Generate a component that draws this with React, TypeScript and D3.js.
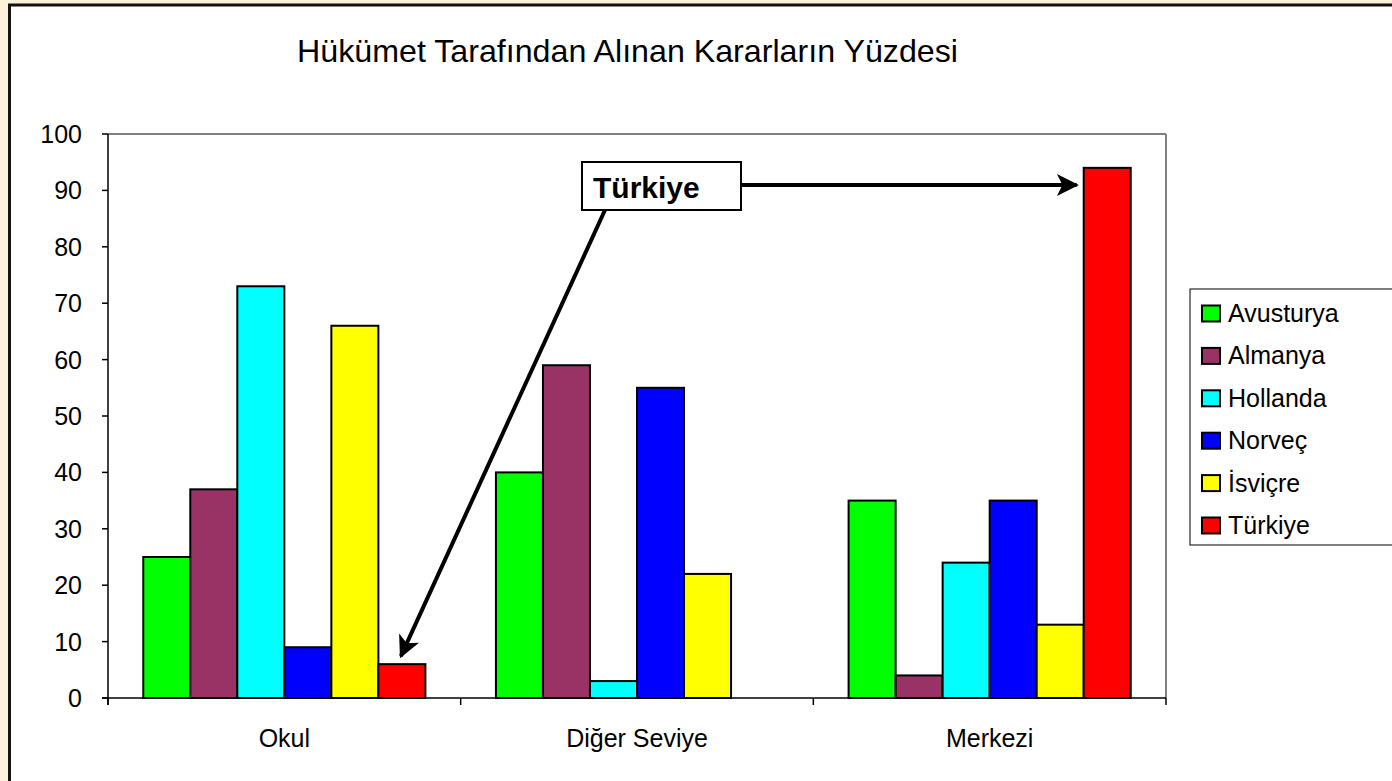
import React from "react";
import * as d3 from "d3";

const categories = ["Okul", "Diğer Seviye", "Merkezi"];
const seriesNames = ["Avusturya", "Almanya", "Hollanda", "Norveç", "İsviçre", "Türkiye"];
const seriesColors = ["#00FF00", "#993366", "#00FFFF", "#0000FF", "#FFFF00", "#FF0000"];
const avusturya = [25, 40, 35];
const almanya = [37, 59, 4];
const hollanda = [73, 3, 24];
const norvec = [9, 55, 35];
const isvicre = [66, 22, 13];
const turkiye = [6, 0, 94];
const seriesValues = [avusturya, almanya, hollanda, norvec, isvicre, turkiye];
const yTicks = [0, 10, 20, 30, 40, 50, 60, 70, 80, 90, 100];
const title = "Hükümet Tarafından Alınan Kararların Yüzdesi";
const calloutText = "Türkiye";

export default function App() {
  const W = 1392, H = 781;
  const left = 108, right = 1166, top = 134, bottom = 698;
  const x0 = d3.scaleBand<string>().domain(categories).range([left, right]).paddingInner(0).paddingOuter(0);
  const x1 = d3.scaleBand<string>().domain(seriesNames).range([0, x0.bandwidth()]).paddingInner(0).paddingOuter(0.75);
  const y = d3.scaleLinear().domain([0, 100]).range([bottom, top]);
  const font = "'Liberation Sans', Arial, sans-serif";

  const boxX = 582, boxY = 162, boxW = 159, boxH = 48;
  const okulRed = x0("Okul")! + x1("Türkiye")! + x1.bandwidth() / 2;
  const merkeziRed = x0("Merkezi")! + x1("Türkiye")!;
  const tip1 = [okulRed - 1, y(turkiye[0]) - 8];
  const tip2 = [merkeziRed - 7, 185];

  const xTicks = [left, ...categories.map((c) => x0(c)! + x0.bandwidth())];

  return (
    <svg width={W} height={H} style={{ position: "absolute", left: 0, top: 0, display: "block" }}>
      <defs>
        <marker id="ah" viewBox="0 0 10 10" refX="9" refY="5" markerWidth="6" markerHeight="5.5" orient="auto" markerUnits="strokeWidth">
          <path d="M0,0 L10,5 L0,10 L2.5,5 Z" fill="#000" />
        </marker>
      </defs>
      <rect x={0} y={0} width={W} height={H} fill="#faf0dc" />
      <rect x={9.5} y={5} width={W + 20} height={H + 20} fill="#fff" stroke="#111" strokeWidth={3} />
      <text x={297} y={62} fontFamily={font} fontSize={32} fill="#000" textLength={661} lengthAdjust="spacingAndGlyphs">{title}</text>

      <line x1={left} y1={top} x2={right} y2={top} stroke="#808080" strokeWidth={2} />
      <line x1={right} y1={top} x2={right} y2={bottom} stroke="#808080" strokeWidth={2} />

      {seriesNames.map((s, si) =>
        categories.map((c, ci) => {
          const v = seriesValues[si][ci];
          if (!v) return null;
          return (
            <rect key={s + c} x={x0(c)! + x1(s)!} y={y(v)} width={x1.bandwidth()} height={bottom - y(v)}
              fill={seriesColors[si]} stroke="#000" strokeWidth={2} />
          );
        })
      )}

      <line x1={left} y1={top} x2={left} y2={bottom + 7} stroke="#000" strokeWidth={1.5} />
      <line x1={left - 6} y1={bottom} x2={right} y2={bottom} stroke="#000" strokeWidth={1.5} />
      {yTicks.map((t) => (
        <g key={t}>
          <line x1={left - 6} y1={y(t)} x2={left} y2={y(t)} stroke="#000" strokeWidth={1.5} />
          <text x={82} y={y(t) + 9} textAnchor="end" fontFamily={font} fontSize={25} fill="#000">{t}</text>
        </g>
      ))}
      {xTicks.map((t, i) => (
        <line key={i} x1={t} y1={bottom} x2={t} y2={bottom + 7} stroke="#000" strokeWidth={1.5} />
      ))}
      {categories.map((c) => (
        <text key={c} x={x0(c)! + x0.bandwidth() / 2} y={747} textAnchor="middle" fontFamily={font} fontSize={25} fill="#000">{c}</text>
      ))}

      <line x1={605} y1={boxY + boxH} x2={tip1[0]} y2={tip1[1]} stroke="#000" strokeWidth={4} markerEnd="url(#ah)" />
      <line x1={boxX + boxW} y1={185} x2={tip2[0]} y2={185} stroke="#000" strokeWidth={4} markerEnd="url(#ah)" />
      <rect x={boxX} y={boxY} width={boxW} height={boxH} fill="#fff" stroke="#000" strokeWidth={2} />
      <text x={boxX + 11} y={boxY + 36} fontFamily={font} fontSize={30} fontWeight="bold" fill="#000">{calloutText}</text>

      <rect x={1190} y={289} width={230} height={256} fill="#fff" stroke="#000" strokeWidth={1} />
      {seriesNames.map((s, i) => {
        const cy = 313.5 + i * 42.4;
        return (
          <g key={s}>
            <rect x={1202} y={cy - 8} width={18} height={16} fill={seriesColors[i]} stroke="#000" strokeWidth={2} />
            <text x={1228} y={cy + 8.5} fontFamily={font} fontSize={25} fill="#000">{s}</text>
          </g>
        );
      })}
    </svg>
  );
}
